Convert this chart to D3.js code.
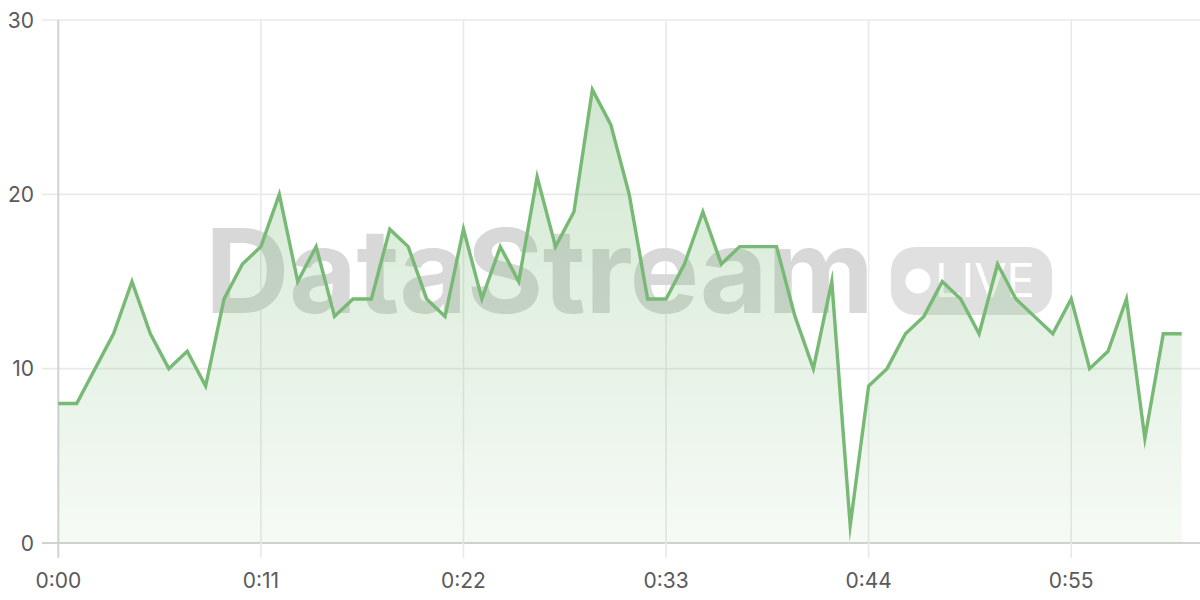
<!DOCTYPE html>
<html>
<head>
<meta charset="utf-8">
<script src="https://cdn.jsdelivr.net/npm/d3@7"></script>
<style>
  html, body { margin: 0; padding: 0; background: #fff; }
  svg { display: block; }
</style>
</head>
<body>
<svg id="chart" width="1200" height="600"></svg>
<script>
// ---- data ----
const seconds = d3.range(0, 62);
const values = [8, 8, 10, 12, 15, 12, 10, 11, 9, 14,
                16, 17, 20, 15, 17, 13, 14, 14, 18, 17,
                14, 13, 18, 14, 17, 15, 21, 17, 19, 26,
                24, 20, 14, 14, 16, 19, 16, 17, 17, 17,
                13, 10, 15, 1, 9, 10, 12, 13, 15, 14,
                12, 16, 14, 13, 12, 14, 10, 11, 14, 6,
                12, 12];
const xTicks = [0, 11, 22, 33, 44, 55];
const yTicks = [0, 10, 20, 30];
const watermarkTitle = "DataStream";
const watermarkBadge = "LIVE";

// ---- layout ----
const svg = d3.select("#chart");
const plotLeft = 58.3, plotRight = 1181.7, plotTop = 20, plotBottom = 543;
const x = d3.scaleLinear().domain([0, 61]).range([plotLeft, plotRight]);
const y = d3.scaleLinear().domain([0, 30]).range([plotBottom, plotTop]);
const fmt = s => Math.floor(s / 60) + ":" + String(s % 60).padStart(2, "0");
const lineColor = "#77b975";
const font = "Inter, 'Liberation Sans', Arial, sans-serif";

// gradient
const defs = svg.append("defs");
const grad = defs.append("linearGradient").attr("id", "fillGrad")
  .attr("gradientUnits", "userSpaceOnUse")
  .attr("x1", 0).attr("x2", 0).attr("y1", plotTop).attr("y2", plotBottom);
grad.append("stop").attr("offset", 0).attr("stop-color", lineColor).attr("stop-opacity", 0.38);
grad.append("stop").attr("offset", 1).attr("stop-color", lineColor).attr("stop-opacity", 0.07);

// horizontal grid (with left tick extension)
svg.append("g").selectAll("line").data(yTicks).join("line")
  .attr("x1", 42).attr("x2", 1200)
  .attr("y1", d => y(d)).attr("y2", d => y(d))
  .attr("stroke", d => d === 0 ? "#d2d2d2" : "#e9e9e9")
  .attr("stroke-width", d => d === 0 ? 2 : 1.6);

// vertical grid (with bottom tick extension)
svg.append("g").selectAll("line").data(xTicks).join("line")
  .attr("x1", d => x(d)).attr("x2", d => x(d))
  .attr("y1", plotTop).attr("y2", 558)
  .attr("stroke", d => d === 0 ? "#d2d2d2" : "#e9e9e9")
  .attr("stroke-width", d => d === 0 ? 2 : 1.6);

// watermark
const wm = svg.append("g");
wm.append("text")
  .attr("x", 205).attr("y", 313)
  .attr("font-family", font).attr("font-weight", "bold").attr("font-size", 117)
  .attr("letter-spacing", -0.5)
  .attr("fill", "#d8d8d8")
  .text(watermarkTitle);
wm.append("rect")
  .attr("x", 891).attr("y", 247).attr("width", 161).attr("height", 68).attr("rx", 24)
  .attr("fill", "#e0e0e0");
wm.append("circle").attr("cx", 918).attr("cy", 281).attr("r", 12.5).attr("fill", "#fff");
wm.append("text")
  .attr("x", 935).attr("y", 297)
  .attr("font-family", font).attr("font-size", 47)
  .attr("fill", "#fff")
  .text(watermarkBadge);

// area + line
const pts = seconds.map((s, i) => [s, values[i]]);
svg.append("path").datum(pts)
  .attr("fill", "url(#fillGrad)")
  .attr("d", d3.area().x(d => x(d[0])).y0(y(0)).y1(d => y(d[1])));
svg.append("path").datum(pts)
  .attr("fill", "none").attr("stroke", lineColor).attr("stroke-width", 3.4)
  .attr("stroke-linejoin", "miter").attr("stroke-miterlimit", 10)
  .attr("d", d3.line().x(d => x(d[0])).y(d => y(d[1])));

// y axis labels
svg.append("g").selectAll("text").data(yTicks).join("text")
  .attr("x", 34).attr("y", d => y(d)).attr("dy", "0.36em")
  .attr("text-anchor", "end")
  .attr("font-family", font).attr("font-size", 21).attr("fill", "#5a5a5a")
  .text(d => d);

// x axis labels
svg.append("g").selectAll("text").data(xTicks).join("text")
  .attr("x", d => x(d)).attr("y", 580).attr("dy", "0.36em")
  .attr("text-anchor", "middle")
  .attr("font-family", font).attr("font-size", 21).attr("fill", "#5a5a5a")
  .text(d => fmt(d));
</script>
</body>
</html>
